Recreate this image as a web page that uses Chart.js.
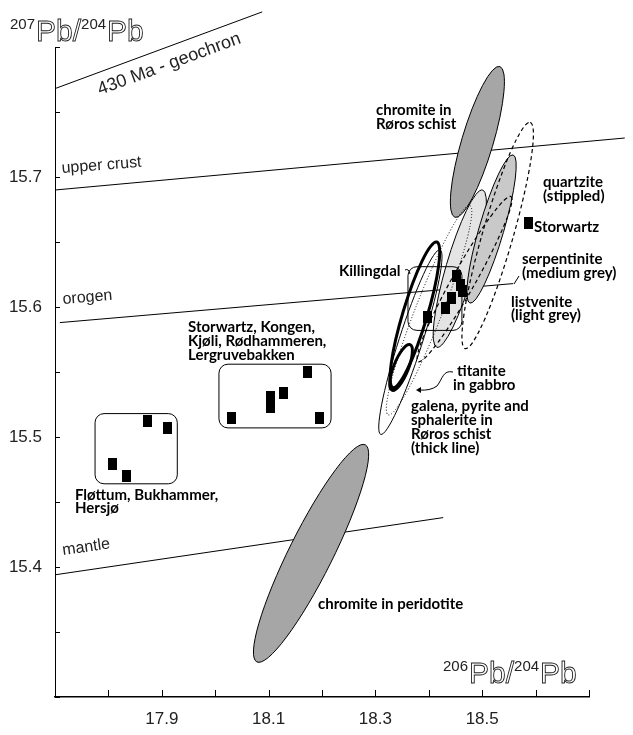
<!DOCTYPE html>
<html>
<head>
<meta charset="utf-8">
<script src="https://cdn.jsdelivr.net/npm/chart.js@4.4.0/dist/chart.umd.min.js"></script>
<style>
  html, body { margin: 0; padding: 0; background: #fff; }
  #wrap { width: 633px; height: 735px; position: relative; }
</style>
</head>
<body>
<div id="wrap"><canvas id="pbChart"></canvas></div>
<script>
// Pb isotope plot: 206Pb/204Pb vs 207Pb/204Pb
const xLabelled = [17.9, 18.1, 18.3, 18.5];
const yLabelled = [15.4, 15.5, 15.6, 15.7];

// reference curves, [206/204, 207/204] end points
const geochron430 = [[17.7, 15.768], [18.088, 15.827]];
const upperCrust  = [[17.7, 15.690], [18.767, 15.730]];
const orogen      = [[17.709, 15.588], [18.558, 15.618]];
const mantle      = [[17.7, 15.394], [18.427, 15.438]];

// ore samples
const floettumX   = [17.807, 17.833, 17.874, 17.910];
const floettumY   = [15.479, 15.470, 15.512, 15.507];
const kongenX     = [18.030, 18.103, 18.103, 18.127, 18.172, 18.196];
const kongenY     = [15.515, 15.523, 15.531, 15.534, 15.550, 15.515];
const killingdalX = [18.451, 18.460, 18.464, 18.443, 18.432, 18.397];
const killingdalY = [15.624, 15.617, 15.612, 15.607, 15.599, 15.592];
const storwartzX  = [18.586];
const storwartzY  = [15.665];

// field ellipses: two tips of the long axis + minor/major ratio
const fieldNames = ['peridotite', 'rorosChromite', 'listvenite', 'serpentinite',
                    'quartzite', 'quartzite2', 'titanite', 'galena', 'thick', 'thickSmall'];
const fieldTipA  = [[18.078, 15.327], [18.449, 15.669], [18.415, 15.569], [18.477, 15.603],
                    [18.468, 15.568], [18.380, 15.558], [18.324, 15.517], [18.310, 15.502],
                    [18.333, 15.538], [18.331, 15.536]];
const fieldTipB  = [[18.281, 15.494], [18.533, 15.785], [18.501, 15.690], [18.558, 15.717],
                    [18.590, 15.742], [18.554, 15.685], [18.477, 15.678], [18.421, 15.644],
                    [18.415, 15.650], [18.365, 15.571]];
const fieldRatio = [0.18, 0.2, 0.17, 0.16, 0.13, 0.12, 0.12, 0.12, 0.16, 0.3];

// sample group boxes [x0, y0, x1, y1]
const groupBoxes = [[17.775, 15.518, 17.929, 15.464],
                    [18.007, 15.556, 18.217, 15.507],
                    [18.361, 15.631, 18.462, 15.582]];

const fieldStyle = {
  peridotite:    { fill: '#a6a6a6', width: 1 },
  rorosChromite: { fill: '#a6a6a6', width: 1 },
  listvenite:    { fill: '#e4e4e4', width: 1 },
  serpentinite:  { fill: '#c9c9c9', width: 1 },
  quartzite:     { width: 1.2, dash: [4, 3] },
  quartzite2:    { width: 1.2, dash: [4, 3] },
  titanite:      { width: 1, dash: [1, 2] },
  galena:        { width: 1 },
  thick:         { width: 3 },
  thickSmall:    { width: 3 }
};

const pts = (xs, ys) => xs.map((x, i) => ({ x, y: ys[i] }));
const seg = a => a.map(p => ({ x: p[0], y: p[1] }));

// black upright rectangle used as the sample marker
const marker = document.createElement('canvas');
marker.width = 9; marker.height = 12;
const mctx = marker.getContext('2d');
mctx.fillStyle = '#000';
mctx.fillRect(0, 0, 9, 12);

const near = (v, list) => list.some(t => Math.abs(t - v) < 1e-6);

const LABEL = '700 15px Lato, "Open Sans", sans-serif';

// text notes placed on the canvas, [text, x, y]
const notes = [
  ['chromite in', 376, 110], ['Røros schist', 376, 124],
  ['quartzite', 543, 182], ['(stippled)', 543, 196],
  ['Storwartz', 534, 227],
  ['serpentinite', 522, 259], ['(medium grey)', 522, 273],
  ['listvenite', 511, 302], ['(light grey)', 511, 315],
  ['Killingdal', 339, 271],
  ['titanite', 457, 371], ['in gabbro', 453, 385],
  ['galena, pyrite and', 411, 406], ['sphalerite in', 411, 420],
  ['Røros schist', 411, 434], ['(thick line)', 411, 448],
  ['Storwartz, Kongen,', 188, 327], ['Kjøli, Rødhammeren,', 188, 341],
  ['Lergruvebakken', 188, 355],
  ['Fløttum, Bukhammer,', 75, 495], ['Hersjø', 75, 508],
  ['chromite in peridotite', 318, 604]
];

// curve names: [text, x, y, angle in degrees, font size]
const curveNames = [
  ['430 Ma - geochron', 100, 95, -20.2, 18],
  ['upper crust', 62, 173, -4.5, 16],
  ['orogen', 63, 304, -4.8, 16],
  ['mantle', 63, 555, -8, 16]
];

function roundRect(ctx, x0, y0, x1, y1, r) {
  ctx.beginPath();
  ctx.moveTo(x0 + r, y0);
  ctx.arcTo(x1, y0, x1, y1, r);
  ctx.arcTo(x1, y1, x0, y1, r);
  ctx.arcTo(x0, y1, x0, y0, r);
  ctx.arcTo(x0, y0, x1, y0, r);
  ctx.closePath();
  ctx.stroke();
}

function drawRatio(ctx, x, y, a, b) {
  // e.g. 207Pb/204Pb with superscript mass numbers and outlined Pb
  ctx.save();
  ctx.textBaseline = 'alphabetic';
  let cx = x;
  const sup = n => {
    ctx.font = '15px "Liberation Sans", Arial, sans-serif';
    ctx.fillStyle = '#222';
    ctx.fillText(n, cx, y - 12);
    cx += ctx.measureText(n).width + 1;
  };
  const big = t => {
    ctx.font = '30px "Liberation Sans", Arial, sans-serif';
    ctx.strokeStyle = '#222';
    ctx.lineWidth = 0.9;
    ctx.strokeText(t, cx, y);
    cx += ctx.measureText(t).width;
  };
  sup(a); big('Pb/'); sup(b); big('Pb');
  ctx.restore();
}

// datasets are painted from the last index to the first: lines sit at the
// end, so the fields go down right before the first sample set (index 3)
const annotations = {
  id: 'annotations',
  beforeDatasetDraw(chart, args) {
    if (args.index !== 3) return;
    const { ctx, scales: { x, y } } = chart;
    ctx.save();
    fieldNames.forEach((name, i) => {
      const s = fieldStyle[name];
      const ax = x.getPixelForValue(fieldTipA[i][0]), ay = y.getPixelForValue(fieldTipA[i][1]);
      const bx = x.getPixelForValue(fieldTipB[i][0]), by = y.getPixelForValue(fieldTipB[i][1]);
      const half = Math.hypot(bx - ax, by - ay) / 2;
      ctx.beginPath();
      ctx.ellipse((ax + bx) / 2, (ay + by) / 2, half, half * fieldRatio[i],
                  Math.atan2(by - ay, bx - ax), 0, Math.PI * 2);
      if (s.fill) { ctx.fillStyle = s.fill; ctx.fill(); }
      ctx.setLineDash(s.dash || []);
      ctx.lineWidth = s.width;
      ctx.strokeStyle = '#000';
      ctx.stroke();
    });
    ctx.setLineDash([]);
    ctx.lineWidth = 1;
    groupBoxes.forEach(b => {
      roundRect(ctx, x.getPixelForValue(b[0]), y.getPixelForValue(b[1]),
                x.getPixelForValue(b[2]), y.getPixelForValue(b[3]), 9);
    });
    // leaders
    ctx.beginPath();
    ctx.moveTo(405, 270); ctx.quadraticCurveTo(409, 268, 410, 274);
    ctx.moveTo(519, 276); ctx.lineTo(514, 284);
    ctx.moveTo(453, 372);
    ctx.bezierCurveTo(443, 370, 443, 378, 437, 386);
    ctx.quadraticCurveTo(430, 391, 419, 390);
    ctx.stroke();
    ctx.beginPath();
    ctx.moveTo(416, 390); ctx.lineTo(421, 387); ctx.lineTo(421, 393); ctx.closePath();
    ctx.fillStyle = '#000'; ctx.fill();
    ctx.restore();
  },
  afterDraw(chart) {
    const { ctx, chartArea: ca, scales: { x, y } } = chart;
    ctx.save();
    // inward tick marks
    ctx.strokeStyle = '#000';
    ctx.lineWidth = 1;
    ctx.beginPath();
    x.ticks.forEach(t => {
      const px = Math.round(x.getPixelForValue(t.value)) + 0.5;
      ctx.moveTo(px, ca.bottom); ctx.lineTo(px, ca.bottom - 7);
    });
    y.ticks.forEach(t => {
      const py = Math.round(y.getPixelForValue(t.value)) + 0.5;
      ctx.moveTo(ca.left, py); ctx.lineTo(ca.left + 5, py);
    });
    ctx.stroke();

    ctx.fillStyle = '#000';
    ctx.font = LABEL;
    ctx.textBaseline = 'middle';
    notes.forEach(([t, nx, ny]) => ctx.fillText(t, nx, ny));

    ctx.fillStyle = '#222';
    ctx.textBaseline = 'alphabetic';
    curveNames.forEach(([t, cx, cy, ang, size]) => {
      ctx.save();
      ctx.font = size + 'px "Liberation Sans", Arial, sans-serif';
      ctx.translate(cx, cy);
      ctx.rotate(ang * Math.PI / 180);
      ctx.fillText(t, 0, 0);
      ctx.restore();
    });

    drawRatio(ctx, 10, 41, '207', '204');
    drawRatio(ctx, 443, 683, '206', '204');
    ctx.restore();
  }
};

const lineDs = data => ({
  type: 'line', data: seg(data), borderColor: '#000', borderWidth: 1,
  pointRadius: 0, clip: false, showLine: true
});
const sampleDs = (xs, ys) => ({
  data: pts(xs, ys), pointStyle: marker, pointRadius: 6, backgroundColor: '#000'
});

new Chart(document.getElementById('pbChart'), {
  type: 'scatter',
  data: {
    datasets: [
      sampleDs(floettumX, floettumY), sampleDs(kongenX, kongenY),
      sampleDs(killingdalX, killingdalY), sampleDs(storwartzX, storwartzY),
      lineDs(geochron430), lineDs(upperCrust), lineDs(orogen), lineDs(mantle)
    ]
  },
  options: {
    responsive: true,
    maintainAspectRatio: false,
    animation: false,
    layout: { padding: { top: 47, right: 44, left: 0, bottom: 0 } },
    plugins: { legend: { display: false }, tooltip: { enabled: false } },
    scales: {
      x: {
        type: 'linear', min: 17.7, max: 18.7,
        afterFit: s => { s.height = 38; },
        grid: { drawOnChartArea: false, drawTicks: false },
        border: { display: true, color: '#000', width: 1.5 },
        ticks: {
          stepSize: 0.1, padding: 12, color: '#222', maxRotation: 0, autoSkip: false,
          font: { family: '"Liberation Sans Narrow", "Liberation Sans", Arial', size: 17 },
          callback: v => near(v, xLabelled) ? v.toFixed(1) : ''
        }
      },
      y: {
        type: 'linear', min: 15.3, max: 15.8,
        afterFit: s => { s.width = 55; },
        grid: { drawOnChartArea: false, drawTicks: false },
        border: { display: true, color: '#000', width: 1 },
        ticks: {
          stepSize: 0.05, padding: 13, color: '#222', autoSkip: false,
          font: { family: '"Liberation Sans Narrow", "Liberation Sans", Arial', size: 17 },
          callback: v => near(v, yLabelled) ? v.toFixed(1) : ''
        }
      }
    }
  },
  plugins: [annotations]
});
</script>
</body>
</html>
